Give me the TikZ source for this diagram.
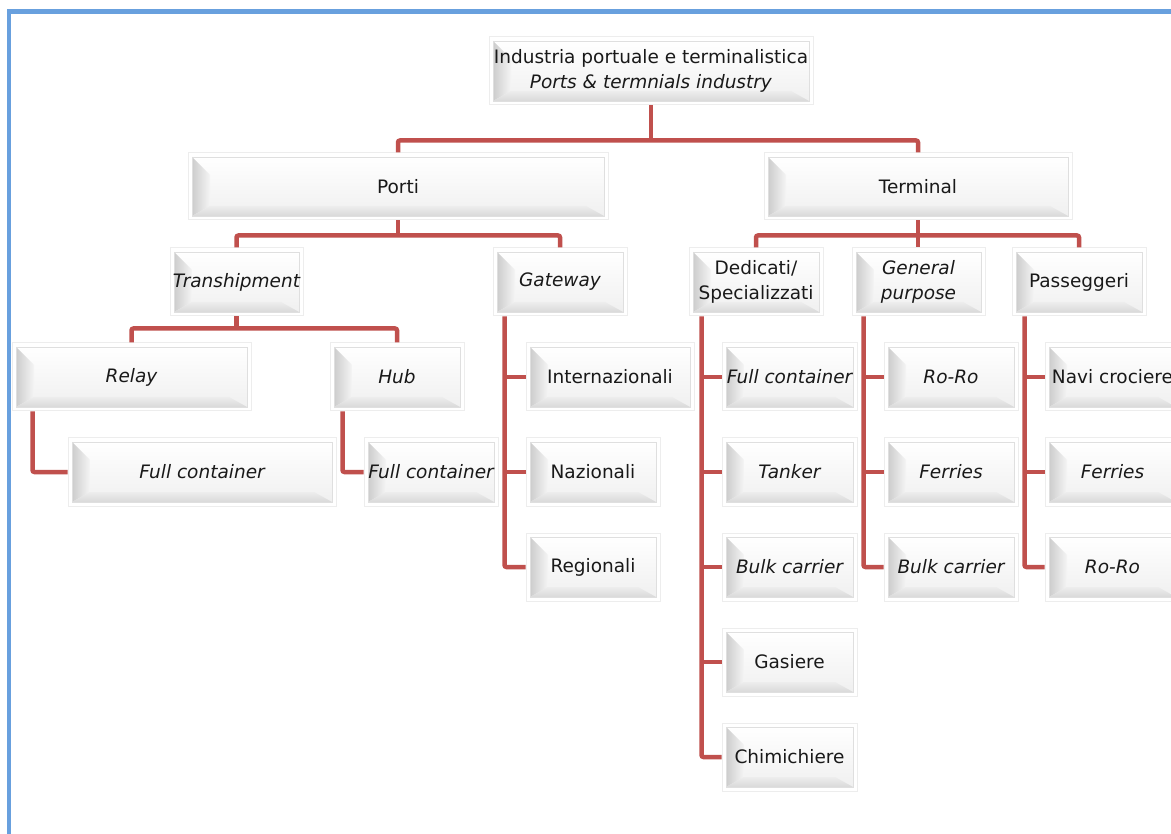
\documentclass[tikz,border=0pt]{standalone}
\usepackage{fontspec}
\setmainfont{DejaVu Sans}
\usetikzlibrary{calc}
\definecolor{connred}{RGB}{192,80,77}
\definecolor{frameblue}{RGB}{104,160,222}
\tikzset{
  conn/.style={draw=connred, line width=4.5pt, rounded corners=2pt},
  bw/.style={minimum width=#1},
  bx/.style={rectangle, draw=gray!14, line width=1pt, fill=white, inner sep=0pt,
    minimum height=68pt, align=center, text=black!90,
    font=\fontsize{18.5}{25}\selectfont,
    path picture={
      \coordinate (pA) at (path picture bounding box.south west);
      \coordinate (pB) at (path picture bounding box.north east);
      \coordinate (iA) at ([shift={(4pt,4pt)}]pA);
      \coordinate (iB) at ([shift={(-4pt,-4pt)}]pB);
      \coordinate (iTL) at (iA|-iB);
      \coordinate (iBR) at (iB|-iA);
      \coordinate (fBL) at ([shift={(18pt,10pt)}]iA);
      \coordinate (fTL) at ([shift={(18pt,-18pt)}]iTL);
      \coordinate (fBR) at ([shift={(-18pt,10pt)}]iBR);
      \shade[top color=white, bottom color=gray!12] (iA) rectangle (iB);
      \shade[left color=gray!40, right color=gray!8] (iTL) -- (iA) -- (fBL) -- (fTL) -- cycle;
      \shade[top color=gray!14, bottom color=gray!30] (iA) -- (iBR) -- (fBR) -- (fBL) -- cycle;
      \draw[gray!25, line width=0.8pt] (iA) rectangle (iB);
    }},
  it/.style={font=\fontsize{18.5}{25}\selectfont\itshape},
}
\begin{document}
\begin{tikzpicture}[x=1pt,y=-1pt]
\useasboundingbox (0,0) rectangle (1171,834);
\clip (0,0) rectangle (1171,834);
\fill[white] (0,0) rectangle (1171,834);
\draw[frameblue, line width=4.5pt] (9,840) -- (9,11.5) -- (1180,11.5);

% level 0
\node[bx, bw=324pt] (root) at (651,71) {Industria portuale e terminalistica\\\textit{Ports \& termnials industry}};
% level 1
\node[bx, bw=420pt, minimum height=67pt] (porti) at (398,186.5) {Porti};
\node[bx, bw=308pt, minimum height=67pt] (terminal) at (918,186.5) {Terminal};
% level 2
\node[bx, it, bw=133pt] (trans) at (236.5,282) {Transhipment};
\node[bx, it, bw=134pt] (gateway) at (560,282) {Gateway};
\node[bx, bw=134pt] (dedicati) at (756,282) {Dedicati/\\Specializzati};
\node[bx, it, bw=133pt] (general) at (918.5,282) {General\\purpose};
\node[bx, bw=134pt] (pass) at (1079,282) {Passeggeri};
% level 3
\node[bx, it, bw=239pt] (relay) at (131.5,377) {Relay};
\node[bx, it, bw=134pt] (hub) at (397,377) {Hub};
\node[bx, it, bw=268pt] (fc1) at (202,472) {Full container};
\node[bx, it, bw=134pt] (fc2) at (431,472) {Full container};
\node[bx, bw=168pt] (internaz) at (610,377) {Internazionali};
\node[bx, bw=134pt] (naz) at (593,472) {Nazionali};
\node[bx, bw=134pt] (reg) at (593,567) {Regionali};
\node[bx, it, bw=135pt] (d1) at (789.5,377) {Full container};
\node[bx, it, bw=135pt] (d2) at (789.5,472) {Tanker};
\node[bx, it, bw=135pt] (d3) at (789.5,567) {Bulk carrier};
\node[bx, bw=135pt] (d4) at (789.5,662) {Gasiere};
\node[bx, bw=135pt] (d5) at (789.5,757) {Chimichiere};
\node[bx, it, bw=134pt] (g1) at (951,377) {Ro-Ro};
\node[bx, it, bw=134pt] (g2) at (951,472) {Ferries};
\node[bx, it, bw=134pt] (g3) at (951,567) {Bulk carrier};
\node[bx, bw=135pt] (p1) at (1112.5,377) {Navi crociere};
\node[bx, it, bw=135pt] (p2) at (1112.5,472) {Ferries};
\node[bx, it, bw=135pt] (p3) at (1112.5,567) {Ro-Ro};

% connectors
\coordinate (j0) at ([yshift=-35pt]root.south);
\draw[conn] (root.south) -- (j0);
\draw[conn] (porti.north) |- (j0) -| (terminal.north);
\coordinate (j1) at ([yshift=-15pt]porti.south);
\draw[conn] (porti.south) -- (j1);
\draw[conn] (trans.north) |- (j1) -| (gateway.north);
\coordinate (j2) at ([yshift=-15pt]terminal.south);
\draw[conn] (terminal.south) -- (terminal.south |- general.north);
\draw[conn] (dedicati.north) |- (j2) -| (pass.north);
\coordinate (j3) at ([yshift=-12pt]trans.south);
\draw[conn] (trans.south) -- (j3);
\draw[conn] (relay.north) |- (j3) -| (hub.north);

\coordinate (rx) at ([xshift=21pt]relay.south west);
\draw[conn] (rx) |- (fc1.west);
\coordinate (hx) at ([xshift=13pt]hub.south west);
\draw[conn] (hx) |- (fc2.west);

\coordinate (gx) at ([xshift=12pt]gateway.south west);
\draw[conn] (gx) |- (reg.west);
\draw[conn] (gx |- internaz.west) -- (internaz.west);
\draw[conn] (gx |- naz.west) -- (naz.west);

\coordinate (dx) at ([xshift=13pt]dedicati.south west);
\draw[conn] (dx) |- (d5.west);
\foreach \n in {d1,d2,d3,d4} \draw[conn] (dx |- \n.west) -- (\n.west);

\coordinate (ex) at ([xshift=12pt]general.south west);
\draw[conn] (ex) |- (g3.west);
\foreach \n in {g1,g2} \draw[conn] (ex |- \n.west) -- (\n.west);

\coordinate (qx) at ([xshift=13pt]pass.south west);
\draw[conn] (qx) |- (p3.west);
\foreach \n in {p1,p2} \draw[conn] (qx |- \n.west) -- (\n.west);
\end{tikzpicture}
\end{document}
